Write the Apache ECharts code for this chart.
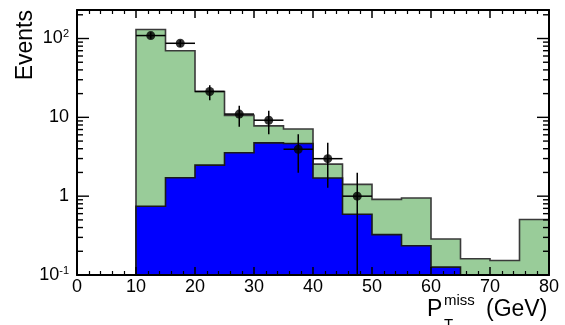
<!DOCTYPE html>
<html>
<head>
<meta charset="utf-8">
<script src="https://cdn.jsdelivr.net/npm/echarts@6/dist/echarts.min.js"></script>
<style>
html,body{margin:0;padding:0;background:#fff;}
#c{width:565px;height:325px;}
</style>
</head>
<body>
<div id="c"></div>
<script>
// ---- data ----
const binLow = [10, 15, 20, 25, 30, 35, 40, 45, 50, 55, 60, 65, 70, 75];
const binWidth = 5;
const totalBkg = [130, 70, 21.3, 10.6, 7.8, 7.1, 2.55, 1.41, 0.91, 0.95, 0.286, 0.161, 0.153, 0.505];
const blueBkg = [0.746, 1.71, 2.48, 3.56, 4.75, 4.65, 1.7, 0.59, 0.325, 0.235, 0.126, null, null, null];
const dataX = [12.5, 17.5, 22.5, 27.5, 32.5, 37.5, 42.5, 47.5];
const dataY = [109, 87, 21.3, 11.0, 9.2, 3.94, 2.99, 1.0];
const dataLo = [99, 78, 16.5, 7.6, 6.1, 1.98, 1.28, 0.1];
const dataHi = [120, 96, 25.5, 14.0, 12.1, 6.1, 4.77, 1.98];
const xTicks = [0, 10, 20, 30, 40, 50, 60, 70, 80];
const yMajorTicks = [0.1, 1, 10, 100];
const yMinorTicks = [0.2, 0.3, 0.4, 0.5, 0.6, 0.7, 0.8, 0.9, 2, 3, 4, 5, 6, 7, 8, 9, 20, 30, 40, 50, 60, 70, 80, 90, 200];
const xMin = 0, xMax = 80, yMin = 0.1, yMax = 230;

const FONT = '"Liberation Sans", Arial, Helvetica, sans-serif';
const GREEN = '#99cc99';
const BLUE = '#0000ff';

const chart = echarts.init(document.getElementById('c'), null, {renderer: 'canvas'});

function histShape(values, fillColor, strokeColor, z) {
  return {
    type: 'custom', xAxisIndex: 0, yAxisIndex: 0, z: z, silent: true,
    data: [[0]],
    renderItem(params, api) {
      const polys = [];
      let pts = null;
      for (let i = 0; i < binLow.length; i++) {
        const v = values[i];
        const lo = binLow[i], hi = lo + binWidth;
        if (v == null) {
          if (pts) { pts.push(api.coord([lo, yMin])); polys.push(pts); pts = null; }
          continue;
        }
        if (!pts) pts = [api.coord([lo, yMin])];
        pts.push(api.coord([lo, v]));
        pts.push(api.coord([hi, v]));
      }
      if (pts) { pts.push(api.coord([binLow[binLow.length - 1] + binWidth, yMin])); polys.push(pts); }
      const children = [];
      polys.forEach(p => {
        children.push({type: 'polygon', shape: {points: p}, style: {fill: fillColor, stroke: null}});
        children.push({type: 'polyline', shape: {points: p}, style: {stroke: strokeColor, lineWidth: 1.6, fill: null}});
      });
      return {type: 'group', children: children};
    }
  };
}

const yTickData = yMajorTicks.map(v => [v, 1]).concat(yMinorTicks.map(v => [v, 0]));

const option = {
  animation: false,
  backgroundColor: '#fff',
  grid: {left: 77, right: 16, top: 10, bottom: 50, containLabel: false},
  xAxis: [
    {type: 'value', min: xMin, max: xMax, interval: 10, position: 'bottom', z: 10,
      axisLine: {show: true, onZero: false, lineStyle: {color: '#000', width: 2}},
      axisTick: {show: true, inside: true, length: 8, lineStyle: {color: '#000', width: 1.5}},
      minorTick: {show: true, splitNumber: 5, length: 4, lineStyle: {color: '#000', width: 1.2}},
      axisLabel: {fontSize: 18, color: '#000', margin: 3, fontFamily: FONT,
        formatter: v => (xTicks.indexOf(v) >= 0 ? String(v) : '')},
      splitLine: {show: false}},
    {type: 'value', min: xMin, max: xMax, interval: 10, position: 'top', z: 10,
      axisLine: {show: true, onZero: false, lineStyle: {color: '#000', width: 2}},
      axisTick: {show: true, inside: true, length: 8, lineStyle: {color: '#000', width: 1.5}},
      minorTick: {show: true, splitNumber: 5, length: 4, lineStyle: {color: '#000', width: 1.2}},
      axisLabel: {show: false}, splitLine: {show: false}}
  ],
  yAxis: [
    {type: 'log', logBase: 10, min: yMin, max: yMax, position: 'left', z: 10,
      axisLine: {show: true, onZero: false, lineStyle: {color: '#000', width: 2}},
      axisTick: {show: false}, splitLine: {show: false}, minorTick: {show: false},
      axisLabel: {margin: 8, color: '#000', fontFamily: FONT, fontSize: 18,
        formatter: function (v) {
          const e = Math.log10(v);
          const r = Math.round(e);
          if (Math.abs(e - r) > 1e-6) return '';
          if (r === 0) return '{b|1}';
          if (r === 1) return '{b|10}';
          return '{b|10}{s|' + r + '}';
        },
        rich: {
          b: {fontSize: 18, fontFamily: FONT, color: '#000', lineHeight: 20},
          s: {fontSize: 11, fontFamily: FONT, color: '#000', verticalAlign: 'top', lineHeight: 11}
        }}},
    {type: 'log', logBase: 10, min: yMin, max: yMax, position: 'right', z: 10,
      axisLine: {show: true, onZero: false, lineStyle: {color: '#000', width: 2}},
      axisTick: {show: false}, splitLine: {show: false}, axisLabel: {show: false}}
  ],
  series: [
    histShape(totalBkg, GREEN, '#3a3a3a', 1),
    histShape(blueBkg, BLUE, '#1a1a1a', 2),
    {
      type: 'custom', xAxisIndex: 0, yAxisIndex: 0, z: 5, silent: true,
      data: yTickData,
      renderItem(params, api) {
        const v = api.value(0);
        const len = api.value(1) ? 12 : 6;
        const pl = api.coord([xMin, v]);
        const pr = api.coord([xMax, v]);
        return {type: 'group', children: [
          {type: 'line', shape: {x1: pl[0], y1: pl[1], x2: pl[0] + len, y2: pl[1]}, style: {stroke: '#000', lineWidth: 1.4}},
          {type: 'line', shape: {x1: pr[0], y1: pr[1], x2: pr[0] - len, y2: pr[1]}, style: {stroke: '#000', lineWidth: 1.4}}
        ]};
      }
    },
    {
      type: 'custom', xAxisIndex: 0, yAxisIndex: 0, z: 6, silent: true,
      data: dataX.map((x, i) => [x, dataY[i], dataLo[i], dataHi[i]]),
      renderItem(params, api) {
        const x = api.value(0);
        const c = api.coord([x, api.value(1)]);
        const l = api.coord([x - binWidth / 2, api.value(1)]);
        const r = api.coord([x + binWidth / 2, api.value(1)]);
        const lo = api.coord([x, api.value(2)]);
        const hi = api.coord([x, api.value(3)]);
        return {type: 'group', children: [
          {type: 'line', shape: {x1: l[0], y1: l[1], x2: r[0], y2: r[1]}, style: {stroke: '#000', lineWidth: 1.5}},
          {type: 'line', shape: {x1: c[0], y1: lo[1], x2: c[0], y2: hi[1]}, style: {stroke: '#000', lineWidth: 1.5}}
        ]};
      }
    },
    {
      type: 'scatter', xAxisIndex: 0, yAxisIndex: 0, z: 7, silent: true,
      symbol: 'circle', symbolSize: 9,
      itemStyle: {color: '#000'},
      data: dataX.map((x, i) => [x, dataY[i]])
    }
  ],
  graphic: [
    {type: 'text', x: 26, y: 10, rotation: Math.PI / 2,
      style: {text: 'Events', fontSize: 23, fontFamily: FONT, fill: '#000', align: 'right', verticalAlign: 'middle'}},
    {type: 'text', x: 427, y: 310,
      style: {text: 'P', fontSize: 23, fontFamily: FONT, fill: '#000', align: 'left', verticalAlign: 'middle'}},
    {type: 'text', x: 444, y: 301,
      style: {text: 'miss', fontSize: 15, fontFamily: FONT, fill: '#000', align: 'left', verticalAlign: 'middle'}},
    {type: 'text', x: 444, y: 325,
      style: {text: 'T', fontSize: 15, fontFamily: FONT, fill: '#000', align: 'left', verticalAlign: 'middle'}},
    {type: 'text', x: 486, y: 310,
      style: {text: '(GeV)', fontSize: 23, fontFamily: FONT, fill: '#000', align: 'left', verticalAlign: 'middle'}}
  ]
};
chart.setOption(option);
</script>
</body>
</html>
